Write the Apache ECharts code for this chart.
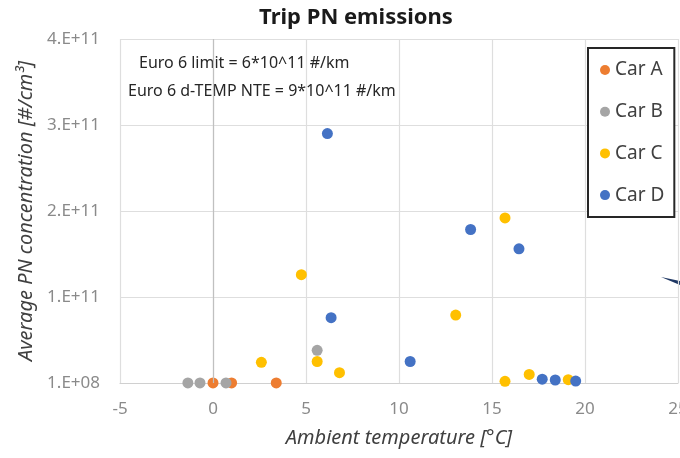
<!DOCTYPE html>
<html>
<head>
<meta charset="utf-8">
<script src="https://cdn.jsdelivr.net/npm/echarts@6/dist/echarts.min.js"></script>
<style>html,body{margin:0;padding:0;background:#fff;}#c{width:680px;height:458px;}</style>
</head>
<body>
<div id="c"></div>
<script>
// Data: [ambient temperature °C, PN concentration #/cm3]
const carA = [[0, 1e8], [1.0, 1e8], [3.4, 1e8]];
const carB = [[-1.35, 1e8], [-0.7, 1e8], [0.7, 1e8], [5.6, 3.8e10]];
const carC = [[2.6, 2.4e10], [4.75, 1.26e11], [5.6, 2.5e10], [6.8, 1.2e10], [13.05, 7.9e10],
              [15.7, 1.92e11], [15.7, 2e9], [17.0, 1.0e10], [19.1, 3.8e9]];
const carD = [[6.15, 2.9e11], [6.35, 7.6e10], [10.6, 2.5e10], [13.85, 1.785e11], [16.45, 1.56e11],
              [17.7, 4.5e9], [18.4, 3.5e9], [19.5, 2.3e9]];
const seriesNames = ['Car A', 'Car B', 'Car C', 'Car D'];
const seriesData = [carA, carB, carC, carD];
const seriesColors = ['#ED7D31', '#A5A5A5', '#FFC000', '#4472C4'];
const yTickLabels = ['1.E+08', '1.E+11', '2.E+11', '3.E+11', '4.E+11'];
const xTicks = { min: -5, max: 25, interval: 5 };
const annotations = ['Euro 6 limit = 6*10^11 #/km', 'Euro 6 d-TEMP NTE = 9*10^11 #/km'];

const FONT = '"Noto Sans", "Open Sans", sans-serif';
const chart = echarts.init(document.getElementById('c'), null, { renderer: 'canvas' });

const series = seriesNames.map((name, i) => ({
  name: name,
  type: 'scatter',
  data: seriesData[i],
  symbol: 'circle',
  symbolSize: 11,
  itemStyle: { color: seriesColors[i], opacity: 1 },
  z: 3 + i,
  emphasis: { disabled: true }
}));
// vertical axis line at x = 0 (Excel axis crossing)
series.push({
  type: 'line', data: [], silent: true,
  markLine: {
    silent: true, symbol: 'none', label: { show: false },
    lineStyle: { color: '#c0c0c0', width: 1.2, type: 'solid' },
    data: [{ xAxis: 0 }]
  },
  z: 1
});

chart.setOption({
  animation: false,
  backgroundColor: '#ffffff',
  title: {
    text: 'Trip PN emissions',
    left: 351, top: 2, textAlign: 'center',
    textStyle: { fontFamily: FONT, fontSize: 22, fontWeight: 'bold', color: '#1a1a1a' }
  },
  grid: { left: 120, right: 2, top: 39, bottom: 75, containLabel: false, outerBoundsMode: 'none' },
  legend: {
    data: seriesNames,
    orient: 'vertical',
    left: 588, top: 48,
    padding: [11, 10, 11, 12],
    itemGap: 19.7,
    itemWidth: 10, itemHeight: 10,
    icon: 'circle',
    borderColor: '#262626', borderWidth: 2,
    backgroundColor: '#ffffff',
    textStyle: { fontFamily: FONT, fontSize: 19, color: '#404040', lineHeight: 22 }
  },
  xAxis: {
    type: 'value', min: xTicks.min, max: xTicks.max, interval: xTicks.interval,
    name: 'Ambient temperature [°C]', nameLocation: 'middle', nameGap: 45,
    nameTextStyle: { fontFamily: FONT, fontSize: 20, fontStyle: 'italic', color: '#404040' },
    axisLine: { show: true, lineStyle: { color: '#d0d0d0', width: 1.2 } },
    axisTick: { show: false },
    axisLabel: { fontFamily: FONT, fontSize: 17, color: '#8a8a8a', margin: 18 },
    splitLine: { show: true, lineStyle: { color: '#dedede', width: 1.2 } }
  },
  yAxis: {
    type: 'value', min: 0, max: 4e11, interval: 1e11,
    name: 'Average PN concentration [#/cm³]', nameLocation: 'middle', nameGap: 79,
    nameTextStyle: { fontFamily: FONT, fontSize: 20, fontStyle: 'italic', color: '#404040' },
    axisLine: { show: false },
    axisTick: { show: false },
    axisLabel: {
      fontFamily: FONT, fontSize: 17, color: '#8a8a8a', margin: 20,
      formatter: v => yTickLabels[Math.round(v / 1e11)]
    },
    splitLine: { show: true, lineStyle: { color: '#dedede', width: 1.2 } }
  },
  graphic: [
    { type: 'text', left: 139, top: 55, style: { text: annotations[0], fontFamily: FONT, fontSize: 16, fill: '#262626' } },
    { type: 'text', left: 128, top: 83, style: { text: annotations[1], fontFamily: FONT, fontSize: 16, fill: '#262626' } },
    { type: 'polygon', shape: { points: [[661, 277], [680, 281], [680, 285]] }, style: { fill: '#1f3864' } }
  ],
  series: series
});
</script>
</body>
</html>
